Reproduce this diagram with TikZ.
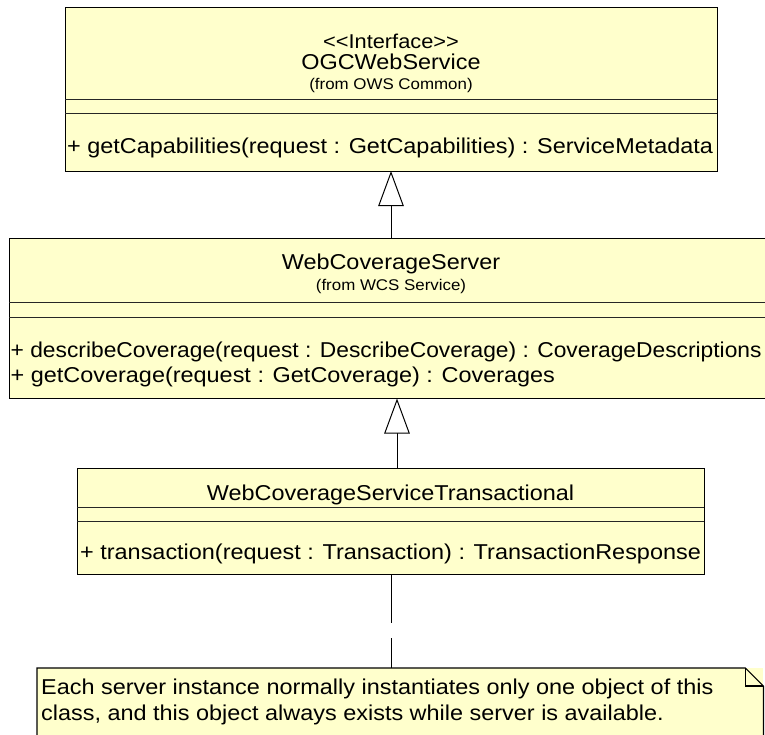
\documentclass[tikz,border=0pt]{standalone}
\usepackage{fontspec}
\setmainfont{Liberation Sans}
\usepackage{graphicx}
\usetikzlibrary{arrows.meta}
\definecolor{umlfill}{RGB}{255,255,204}
\newcommand\hw[1]{\scalebox{1.09}[1]{#1}}
\newcommand\hwn[1]{\scalebox{1.06}[1]{#1}}
\begin{document}
\begin{tikzpicture}[x=1pt,y=-1pt,
  cls/.style={draw=black, line width=1.2pt, fill=umlfill, inner sep=0pt, anchor=north west},
  divline/.style={draw=black!85, line width=1pt},
  big/.style={inner sep=0pt, anchor=base, font=\fontsize{21.5}{25}\selectfont},
  stereo/.style={inner sep=0pt, anchor=base, font=\fontsize{20}{24}\selectfont},
  small/.style={inner sep=0pt, anchor=base, font=\fontsize{15.5}{18}\selectfont},
  meth/.style={inner sep=0pt, anchor=base west, font=\fontsize{21.5}{25}\selectfont},
  gen/.style={draw=black, line width=1pt, -{Triangle[open, length=35pt, width=25.5pt, fill=white]}},
  anchorline/.style={draw=black, line width=1pt, dash pattern=on 48pt off 15pt},
  notebox/.style={draw=none, fill=umlfill, inner sep=0pt, anchor=north west},
  noteline/.style={draw=black, line width=1.2pt},
]
\useasboundingbox (0,0) rectangle (765,734);
\clip (0,0) rectangle (765,734);
\fill[white] (0,0) rectangle (765,734);

% Class OGCWebService
\node[cls, minimum width=652pt, minimum height=164pt] (ogc) at (65,7) {};
\draw[divline] (65,99) -- (717,99);
\draw[divline] (65,113) -- (717,113);
\node[stereo] (ogcst) at (391,48) {\hw{<{}<Interface>{}>}};
\node[big] (ogcname) at (391,69.5) {\hw{OGCWebService}};
\node[small] (ogcfrom) at (391,89) {\hw{(from OWS Common)}};
\node[meth] (ogcm1) at (67,153.5) {\hw{+ getCapabilities(request : GetCapabilities) : ServiceMetadata}};

% Class WebCoverageServer
\node[cls, minimum width=760pt, minimum height=160pt] (wcs) at (9,238) {};
\draw[divline] (9,302) -- (769,302);
\draw[divline] (9,317) -- (769,317);
\node[big] (wcsname) at (391,269.5) {\hw{WebCoverageServer}};
\node[small] (wcsfrom) at (391,290) {\hw{(from WCS Service)}};
\node[meth] (wcsm1) at (10.5,357.5) {\hwn{+ describeCoverage(request : DescribeCoverage) : CoverageDescriptions}};
\node[meth] (wcsm2) at (10.5,382.5) {\hw{+ getCoverage(request : GetCoverage) : Coverages}};

% Class WebCoverageServiceTransactional
\node[cls, minimum width=627pt, minimum height=106pt] (wcst) at (77,468) {};
\draw[divline] (77,507) -- (704,507);
\draw[divline] (77,521) -- (704,521);
\node[big] (wcstname) at (390.5,500) {\hw{WebCoverageServiceTransactional}};
\node[meth] (wcstm1) at (80,559.5) {\hw{+ transaction(request : Transaction) : TransactionResponse}};

% Generalizations
\coordinate (g1b) at (391,238);
\coordinate (g1t) at (391,171);
\draw[gen] (g1b) -- (g1t);
\coordinate (g2b) at (397,468);
\coordinate (g2t) at (397,398.5);
\draw[gen] (g2b) -- (g2t);

% Note
\node[notebox, minimum width=726pt, minimum height=90pt] (note) at (37,668) {};
\draw[noteline, fill=umlfill] (note.south west) -- (note.north west) -- ([xshift=-18pt]note.north east) -- ([yshift=-18pt]note.north east) -- (note.south east);
\draw[noteline] ([xshift=-18pt]note.north east) -- ++(0,18) -- ++(18,0);
\node[meth] (notet1) at (41,694) {\hw{Each server instance normally instantiates only one object of this}};
\node[meth] (notet2) at (41,720) {\hw{class, and this object always exists while server is available.}};

% Anchor line
\draw[anchorline] (wcst.south) -- (wcst.south |- note.north);
\end{tikzpicture}
\end{document}
